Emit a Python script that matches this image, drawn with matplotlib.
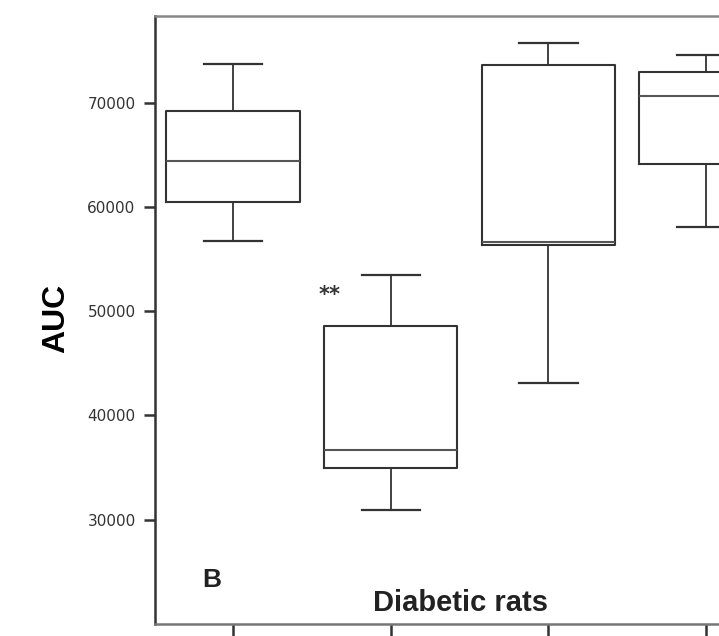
import numpy as np
import matplotlib.pyplot as plt

# box plot summary values (AUC, diabetic rats)
groups = ['1', '2', '3', '4']
whis_lo = [56750, 30960, 43060, 58040]
q1 = [60480, 34930, 56360, 64070]
med = [64350, 36650, 56650, 70600]
q3 = [69140, 48560, 73640, 72900]
whis_hi = [73730, 53450, 75740, 74590]

stats = []
for i in range(len(groups)):
    stats.append({'label': groups[i], 'whislo': whis_lo[i], 'q1': q1[i],
                  'med': med[i], 'q3': q3[i], 'whishi': whis_hi[i], 'fliers': []})

fig = plt.figure(figsize=(7.19, 6.36), dpi=100)
# axes runs off the right edge, like the cropped original
ax = fig.add_axes([0.2156, 0.0189, 0.876, 0.956])

dark = '#333333'
ax.bxp(stats, positions=[1, 2, 3, 4], widths=0.845, capwidths=0.37,
       showfliers=False,
       boxprops=dict(color=dark, linewidth=1.5),
       whiskerprops=dict(color=dark, linewidth=1.3),
       capprops=dict(color=dark, linewidth=1.6),
       medianprops=dict(color='#555555', linewidth=1.5))

ax.set_xlim(0.505, 4.5)
ax.set_ylim(20000, 78300)
ax.set_yticks([30000, 40000, 50000, 60000, 70000])
ax.set_yticklabels(['30000', '40000', '50000', '60000', '70000'],
                   fontsize=11, color='#333333')
ax.set_xticks([1, 2, 3, 4])
ax.set_xticklabels(['', '', '', ''])

ax.tick_params(axis='y', direction='out', length=8, width=1.8, pad=6, color=dark)
ax.tick_params(axis='x', direction='out', length=12, width=1.8, color=dark)

ax.spines['left'].set_color(dark)
ax.spines['left'].set_linewidth(1.8)
ax.spines['top'].set_color('#888888')
ax.spines['top'].set_linewidth(1.8)
ax.spines['bottom'].set_color('#777777')
ax.spines['bottom'].set_linewidth(1.8)
ax.spines['right'].set_visible(False)

ax.set_ylabel('AUC', fontsize=23, fontweight='bold', family='Liberation Sans')
ax.yaxis.set_label_coords(-0.133, 0.503, transform=ax.transAxes)

ax.text(0.803, 23590, 'B', fontsize=19, fontweight='bold', family='Liberation Sans',
        ha='left', va='baseline', color='#222222')
ax.text(2.44, 21290, 'Diabetic rats', fontsize=21, fontweight='bold',
        family='Liberation Sans', ha='center', va='baseline', color='#222222')
ax.text(1.615, 51500, '**', fontsize=15, fontweight='bold', ha='center', va='center',
        color='#333333')

fig.savefig('out.png', dpi=100)
